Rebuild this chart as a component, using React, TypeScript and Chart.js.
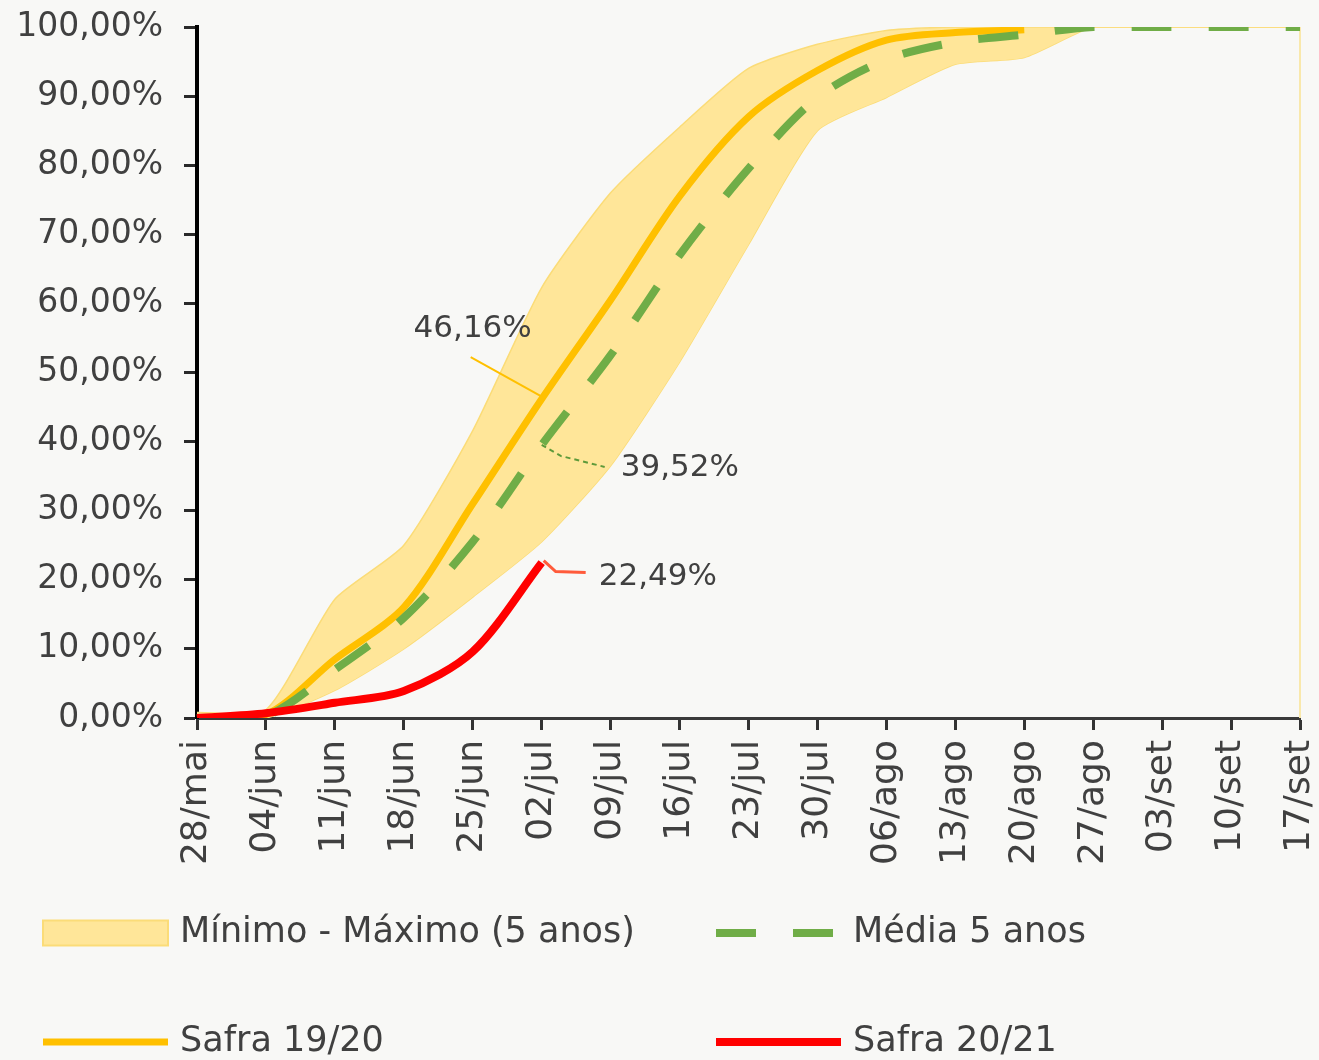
import React, { useEffect, useRef } from 'react';
import { Chart, registerables } from 'chart.js';

Chart.register(...registerables);

// ---------- data ----------
const weeks = ['28/mai', '04/jun', '11/jun', '18/jun', '25/jun', '02/jul', '09/jul', '16/jul', '23/jul', '30/jul', '06/ago', '13/ago', '20/ago', '27/ago', '03/set', '10/set', '17/set'];
const bandMax = [0.8, 1.2, 17.2, 25, 41.6, 62.3, 76, 85.5, 94, 97.5, 99.5, 100, 100, 100, 100, 100, 100];
const bandMin = [0, 0, 4, 10, 17.5, 25.5, 36.5, 51.5, 68.5, 85, 89.8, 94.6, 95.6, 100, 100, 100, 100];
const media5 = [0, 0.3, 7, 14.5, 25.5, 39.52, 52.5, 67, 79.5, 89.8, 95.3, 97.8, 98.9, 100, 100, 100, 100];
const safra1920 = [0, 0.5, 8.5, 16, 31, 46.16, 60.5, 75.5, 87, 93.7, 98.1, 99.2, 99.6, null, null, null, null];
const safra2021 = [0, 0.7, 2.2, 3.9, 9.6, 22.49, null, null, null, null, null, null, null, null, null, null, null];
const seriesNames = ['Mínimo - Máximo (5 anos)', 'Mínimo', 'Média 5 anos', 'Safra 19/20', 'Safra 20/21'];
const yMin = 0;
const yMax = 100;
const yStep = 10;

// ---------- styles ----------
const FONT = '"DejaVu Sans", "Noto Sans", sans-serif';
const TEXT = '#404040';
const BG = '#f8f8f6';
const C_BAND = '#ffe699';
const C_BAND_EDGE = '#fbdc78';
const C_GREEN = '#70ad47';
const C_ORANGE = '#ffc000';
const C_RED = '#ff0000';

const fmtPct = (v: number) => v.toFixed(2).replace('.', ',') + '%';

// callouts: style/offsets only, values come from series
const callouts = [
  { data: safra1920, index: 5, color: C_ORANGE, width: 2, dash: [] as number[], path: [[1, -2], [-71, -42]], text: [-69, -70], align: 'center' as CanvasTextAlign },
  { data: media5, index: 5, color: '#5e9a3a', width: 2, dash: [5, 4], path: [[0, 0], [19, 11], [63, 22]], text: [79, 23], align: 'left' as CanvasTextAlign },
  { data: safra2021, index: 5, color: '#ff5b3b', width: 3, dash: [] as number[], path: [[2, -2], [14, 9], [44, 10]], text: [57, 14], align: 'left' as CanvasTextAlign },
];

// legend layout: dataset index + position
const legendLayout = [
  { ds: 0, x: 43, y: 933 },
  { ds: 2, x: 716, y: 933 },
  { ds: 3, x: 43, y: 1042 },
  { ds: 4, x: 716, y: 1042 },
];

const overlayPlugin = {
  id: 'overlay',
  beforeDatasetsDraw(chart: any) {
    const { ctx, scales } = chart;
    const x = scales.x, y = scales.y;
    const last = weeks.length - 1;
    const xr = x.getPixelForValue(last);
    ctx.save();
    ctx.strokeStyle = '#f9e8ab';
    ctx.lineWidth = 2;
    ctx.beginPath();
    ctx.moveTo(xr, y.getPixelForValue(bandMax[last]));
    ctx.lineTo(xr, y.getPixelForValue(bandMin[0]));
    ctx.stroke();
    ctx.restore();
  },
  afterDatasetsDraw(chart: any) {
    const { ctx, scales } = chart;
    const x = scales.x, y = scales.y;
    ctx.save();
    for (const c of callouts) {
      const v = c.data[c.index] as number;
      const px = x.getPixelForValue(c.index);
      const py = y.getPixelForValue(v);
      ctx.strokeStyle = c.color;
      ctx.lineWidth = c.width;
      ctx.setLineDash(c.dash);
      ctx.beginPath();
      c.path.forEach(([dx, dy], i) => (i ? ctx.lineTo(px + dx, py + dy) : ctx.moveTo(px + dx, py + dy)));
      ctx.stroke();
      ctx.setLineDash([]);
      ctx.fillStyle = TEXT;
      ctx.font = `31px ${FONT}`;
      ctx.textAlign = c.align;
      ctx.textBaseline = 'middle';
      ctx.fillText(fmtPct(v), px + c.text[0], py + c.text[1]);
    }
    ctx.restore();
  },
  afterDraw(chart: any) {
    const { ctx } = chart;
    const boxW = 125;
    ctx.save();
    for (const item of legendLayout) {
      const ds = chart.data.datasets[item.ds];
      if (ds.fill) {
        ctx.fillStyle = ds.backgroundColor;
        ctx.fillRect(item.x, item.y - 12.5, boxW, 25);
        ctx.strokeStyle = C_BAND_EDGE;
        ctx.lineWidth = 2;
        ctx.strokeRect(item.x, item.y - 12.5, boxW, 25);
      } else {
        ctx.strokeStyle = ds.borderColor;
        ctx.lineWidth = ds.borderWidth;
        ctx.setLineDash(ds.borderDash || []);
        ctx.beginPath();
        ctx.moveTo(item.x, item.y);
        ctx.lineTo(item.x + boxW, item.y);
        ctx.stroke();
        ctx.setLineDash([]);
      }
      ctx.fillStyle = TEXT;
      ctx.font = `35px ${FONT}`;
      ctx.textAlign = 'left';
      ctx.textBaseline = 'middle';
      ctx.fillText(ds.label, item.x + boxW + 12, item.y);
    }
    ctx.restore();
  },
};

export default function App() {
  const ref = useRef<HTMLCanvasElement | null>(null);

  useEffect(() => {
    document.body.style.margin = '0';
    document.body.style.background = BG;
    document.body.style.overflow = 'hidden';
    if (!ref.current) return;
    const chart = new Chart(ref.current, {
      type: 'line',
      data: {
        labels: weeks,
        datasets: [
          { label: seriesNames[0], data: bandMax, fill: '+1', backgroundColor: C_BAND, borderColor: C_BAND_EDGE, borderWidth: 1.5, pointRadius: 0, tension: 0.2, order: 5 },
          { label: seriesNames[1], data: bandMin, fill: false, borderColor: C_BAND_EDGE, borderWidth: 1.5, pointRadius: 0, tension: 0.2, order: 6 },
          { label: seriesNames[2], data: media5, fill: false, borderColor: C_GREEN, borderWidth: 8, borderDash: [40, 37], pointRadius: 0, tension: 0.3, order: 2 },
          { label: seriesNames[3], data: safra1920, fill: false, borderColor: C_ORANGE, borderWidth: 7, pointRadius: 0, tension: 0.3, order: 3 },
          { label: seriesNames[4], data: safra2021, fill: false, borderColor: C_RED, borderWidth: 8, pointRadius: 0, tension: 0.3, order: 1 },
        ] as any,
      },
      options: {
        responsive: false,
        animation: false,
        events: [],
        layout: { padding: { top: 27, right: 19, left: 0, bottom: 0 } },
        plugins: { legend: { display: false }, tooltip: { enabled: false }, title: { display: false } },
        scales: {
          x: {
            offset: false,
            grid: { drawOnChartArea: false, drawTicks: true, tickLength: 12, tickWidth: 3, tickColor: '#333333' },
            border: { display: true, color: '#3a3a3a', width: 3 },
            ticks: { autoSkip: false, minRotation: 90, maxRotation: 90, padding: 10, color: TEXT, font: { family: FONT, size: 36 } },
            afterFit: (s: any) => { s.height = 342; s.paddingLeft = 0; s.paddingRight = 0; },
          },
          y: {
            min: yMin,
            max: yMax,
            grid: { drawOnChartArea: false, drawTicks: true, tickLength: 13, tickWidth: 3, tickColor: '#2a2a2a' },
            border: { display: true, color: '#000000', width: 4 },
            ticks: { stepSize: yStep, padding: 21, color: TEXT, font: { family: FONT, size: 33 }, callback: (v: any) => fmtPct(Number(v)) },
            afterFit: (s: any) => { s.width = 197; s.paddingTop = 0; s.paddingBottom = 0; },
          },
        },
      },
      plugins: [overlayPlugin],
    });
    return () => chart.destroy();
  }, []);

  return (
    <div style={{ width: 1319, height: 1060, background: BG }}>
      <canvas ref={ref} width={1319} height={1060} style={{ display: 'block' }} />
    </div>
  );
}
